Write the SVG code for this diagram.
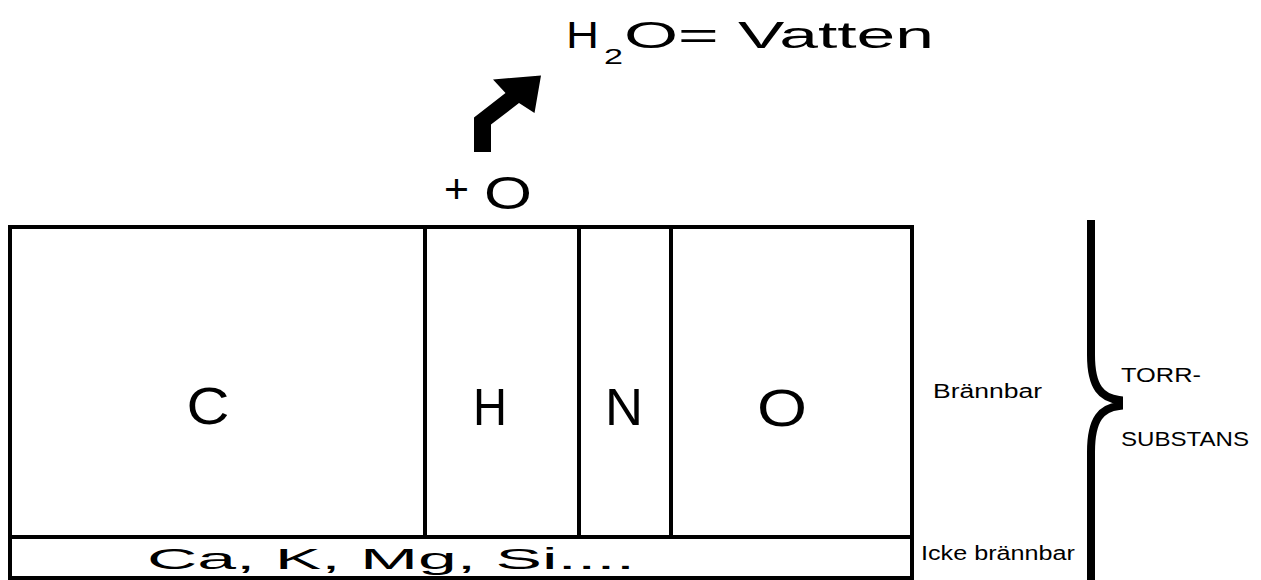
<svg xmlns="http://www.w3.org/2000/svg" width="1261" height="580" viewBox="0 0 1261 580">
<style>
.t{font-family:"Liberation Sans",Arial,sans-serif;fill:#000}
.ln{stroke:#000;stroke-width:4;fill:none}
.big{font-size:52px}
</style>
<rect width="1261" height="580" fill="#fff"/>
<g id="box">
<rect class="ln" x="10" y="227" width="902" height="351"/>
<line class="ln" x1="10" y1="537" x2="912" y2="537"/>
</g>
<g id="node-C"><text class="t big" x="208" y="424" text-anchor="middle" textLength="43" lengthAdjust="spacingAndGlyphs">C</text></g>
<g id="node-H"><line class="ln" x1="425" y1="227" x2="425" y2="537"/><text class="t big" x="490" y="425" text-anchor="middle" textLength="34" lengthAdjust="spacingAndGlyphs">H</text></g>
<g id="node-N"><line class="ln" x1="579" y1="227" x2="579" y2="537"/><text class="t big" x="624" y="425" text-anchor="middle" textLength="38" lengthAdjust="spacingAndGlyphs">N</text></g>
<g id="node-O"><line class="ln" x1="671" y1="227" x2="671" y2="537"/><text class="t big" x="782" y="426" text-anchor="middle" textLength="50" lengthAdjust="spacingAndGlyphs">O</text></g>
<g id="node-ash"><text class="t" x="147" y="569" font-size="30" textLength="488" lengthAdjust="spacingAndGlyphs">Ca, K, Mg, Si....</text></g>
<g id="label-brannbar"><text class="t" x="933" y="398" font-size="20" textLength="109" lengthAdjust="spacingAndGlyphs">Brännbar</text></g>
<g id="label-icke"><text class="t" x="921" y="560" font-size="20" textLength="154" lengthAdjust="spacingAndGlyphs">Icke brännbar</text></g>
<g id="brace">
<path d="M1091,220 V355 C1091,388 1102,398 1119,400 V406 C1102,408 1091,418 1091,452 V580" fill="none" stroke="#000" stroke-width="8"/>
</g>
<g id="label-torr">
<text class="t" x="1121" y="382" font-size="21" textLength="80" lengthAdjust="spacingAndGlyphs">TORR-</text>
<text class="t" x="1121" y="446" font-size="21" textLength="128" lengthAdjust="spacingAndGlyphs">SUBSTANS</text>
</g>
<g id="node-plusO">
<text class="t" x="444" y="203" font-size="40" textLength="25" lengthAdjust="spacingAndGlyphs">+</text>
<text class="t" x="484" y="209" font-size="47" textLength="48" lengthAdjust="spacingAndGlyphs">O</text>
</g>
<g id="node-water">
<text class="t" x="566" y="48" font-size="37" textLength="33" lengthAdjust="spacingAndGlyphs">H</text>
<text class="t" x="604" y="64" font-size="22" textLength="19" lengthAdjust="spacingAndGlyphs">2</text>
<text class="t" x="624" y="48" font-size="37" textLength="310" lengthAdjust="spacingAndGlyphs">O= Vatten</text>
</g>
<g id="connectors">
<polygon points="474,152 491,152 491,124.5 519,103 534.5,113 541,75.5 493,79.5 505.5,93 474,117.5" fill="#000"/>
</g>
</svg>
